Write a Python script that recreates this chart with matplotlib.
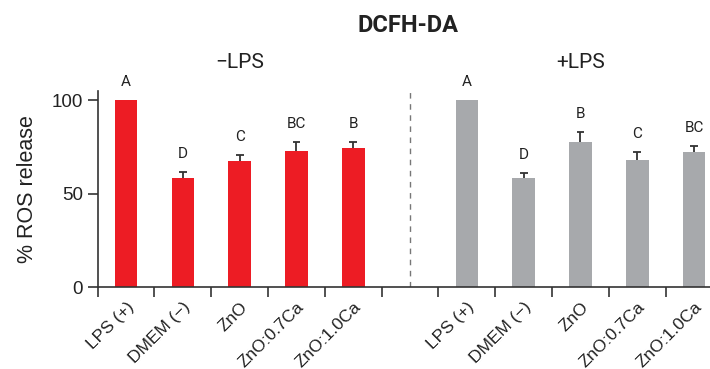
import numpy as np
import matplotlib
matplotlib.use("Agg")
import matplotlib.pyplot as plt

# data
groups = ["LPS (+)", "DMEM (−)", "ZnO", "ZnO:0.7Ca", "ZnO:1.0Ca"]
minus_lps = [100, 58.3, 67.4, 72.7, 74.3]
minus_err = [0, 3.0, 3.0, 4.7, 3.4]
minus_letters = ["A", "D", "C", "BC", "B"]
plus_lps = [100, 58.3, 77.5, 67.9, 72.2]
plus_err = [0, 2.8, 5.2, 4.3, 3.0]
plus_letters = ["A", "D", "B", "C", "BC"]

red = "#ED1C24"
gray = "#A7A9AC"
dark = "#333333"

fig = plt.figure(figsize=(7.1, 3.69), dpi=100)
ax = fig.add_axes([0.1376, 0.2222, 1 - 0.1376, 0.5321])

x_left = np.arange(5)
x_right = np.arange(5) + 6
w = 0.4
cap = 0.07

ax.bar(x_left, minus_lps, width=w, color=red, zorder=2)
ax.bar(x_right, plus_lps, width=w, color=gray, zorder=2)

for xs, vals, errs, lets in [(x_left, minus_lps, minus_err, minus_letters),
                             (x_right, plus_lps, plus_err, plus_letters)]:
    for xi, v, e, t in zip(xs, vals, errs, lets):
        if e > 0:
            # upper error bar only
            ax.vlines(xi, v, v + e, color=dark, linewidth=1.3, zorder=1)
            ax.hlines(v + e, xi - cap, xi + cap, color=dark, linewidth=1.3, zorder=1)
        ax.annotate(t, (xi, v + e), xytext=(0, 8), textcoords="offset points",
                    ha="center", va="bottom", fontsize=11, color="#222222",
                    family="Roboto")

ax.axvline(5, ymin=0, ymax=104.4 / 105, color="#777777", linestyle=(0, (4, 4)),
           linewidth=1)

ax.text(2, 119.8, "−LPS", ha="center", va="center", fontsize=15,
        family="Roboto", color="#222222")
ax.text(8, 119.8, "+LPS", ha="center", va="center", fontsize=15,
        family="Roboto", color="#222222")
fig.text(408 / 710, 0.932, "DCFH-DA", ha="center", va="center", fontsize=17,
         fontweight="bold", family="Roboto", color="#222222")

ax.set_xlim(-0.5, 10.28)
ax.set_ylim(0, 105)
ax.set_yticks([0, 50, 100])
ax.set_xticks(list(x_left) + list(x_right))
ax.set_xticklabels(groups + groups, rotation=45, ha="right",
                   rotation_mode="anchor", fontsize=12.5, family="Liberation Sans",
                   color="#222222")
ax.set_xticks(np.arange(-0.5, 10, 1), minor=True)
ax.tick_params(axis="x", which="major", length=0, pad=9)
ax.tick_params(axis="x", which="minor", length=7, width=1.2, color=dark)
ax.tick_params(axis="y", length=7, width=1.2, color=dark, labelsize=13.5,
               labelcolor="#222222")
for lab in ax.get_yticklabels():
    lab.set_family("Liberation Sans")
ax.set_ylabel("% ROS release", fontsize=15.5, family="Liberation Sans",
              color="#222222", labelpad=10)

for s in ["top", "right"]:
    ax.spines[s].set_visible(False)
for s in ["left", "bottom"]:
    ax.spines[s].set_linewidth(1.2)
    ax.spines[s].set_color(dark)

fig.savefig("out.png", dpi=100)
